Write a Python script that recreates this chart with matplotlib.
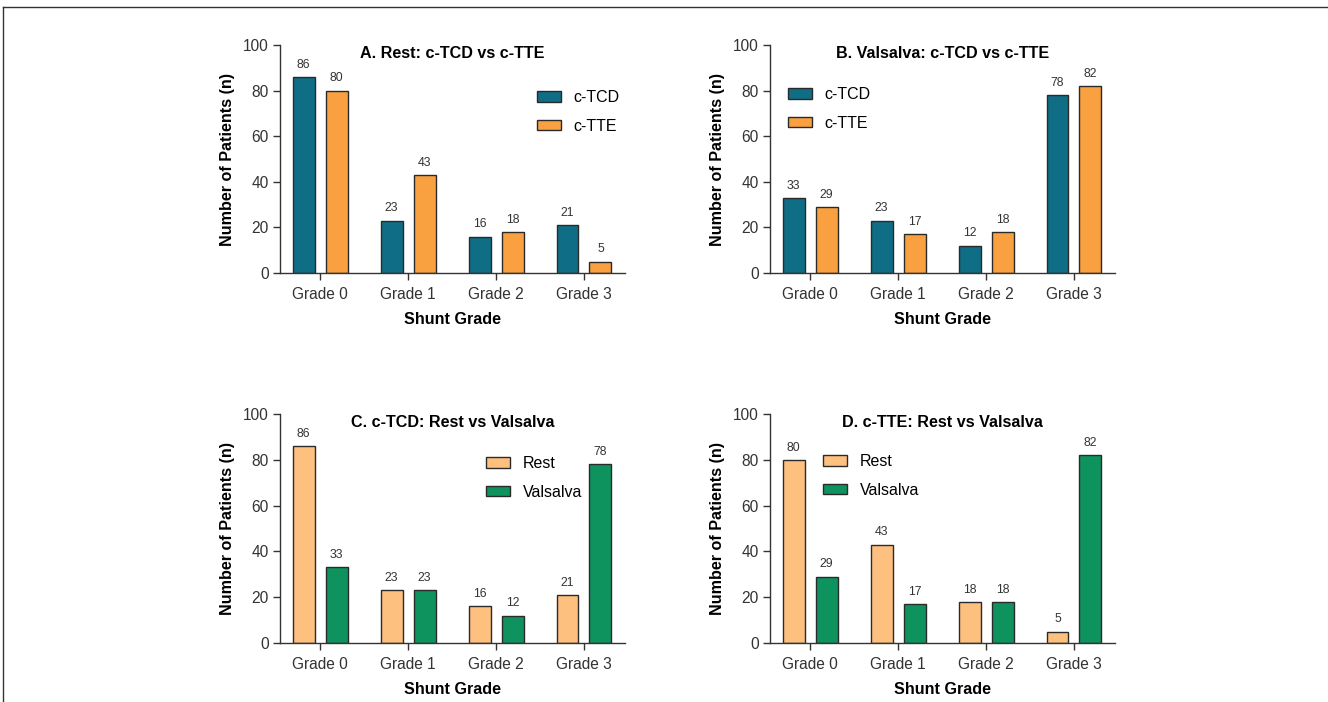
import matplotlib
matplotlib.use("Agg")
import matplotlib.pyplot as plt
from matplotlib.lines import Line2D
import numpy as np

plt.rcParams['font.family'] = ['Liberation Sans', 'DejaVu Sans']

grades = ["Grade 0", "Grade 1", "Grade 2", "Grade 3"]
tcd_rest = [86, 23, 16, 21]
tte_rest = [80, 43, 18, 5]
tcd_valsalva = [33, 23, 12, 78]
tte_valsalva = [29, 17, 18, 82]

TEAL = "#0f6d86"
ORANGE = "#f9a040"
LIGHT_ORANGE = "#fdc07f"
GREEN = "#0e935f"
EDGE = "#2a2a2a"

panels = [
    dict(title="A. Rest: c-TCD vs c-TTE", s1=tcd_rest, s2=tte_rest, labels=("c-TCD", "c-TTE"),
         colors=(TEAL, ORANGE), rect=(280, 45, 625, 273), leg=(537, 96)),
    dict(title="B. Valsalva: c-TCD vs c-TTE", s1=tcd_valsalva, s2=tte_valsalva, labels=("c-TCD", "c-TTE"),
         colors=(TEAL, ORANGE), rect=(770, 45, 1115, 273), leg=(788, 93)),
    dict(title="C. c-TCD: Rest vs Valsalva", s1=tcd_rest, s2=tcd_valsalva, labels=("Rest", "Valsalva"),
         colors=(LIGHT_ORANGE, GREEN), rect=(280, 414, 625, 643), leg=(486, 462)),
    dict(title="D. c-TTE: Rest vs Valsalva", s1=tte_rest, s2=tte_valsalva, labels=("Rest", "Valsalva"),
         colors=(LIGHT_ORANGE, GREEN), rect=(770, 414, 1115, 643), leg=(823, 460)),
]

W, H = 1328, 702
fig = plt.figure(figsize=(W / 100, H / 100), dpi=100)

# partial frame border
fig.add_artist(Line2D([3 / W, 1], [1 - 7 / H, 1 - 7 / H], color="#333333", lw=1.0, transform=fig.transFigure))
fig.add_artist(Line2D([3 / W, 3 / W], [0, 1 - 7 / H], color="#333333", lw=1.0, transform=fig.transFigure))

x = np.arange(len(grades))
bw = 0.25
off = 0.1875

for p in panels:
    l, t, r, b = p["rect"]
    ax = fig.add_axes([l / W, 1 - b / H, (r - l) / W, (b - t) / H])
    b1 = ax.bar(x - off, p["s1"], bw, color=p["colors"][0], edgecolor=EDGE, linewidth=1.0, label=p["labels"][0])
    b2 = ax.bar(x + off, p["s2"], bw, color=p["colors"][1], edgecolor=EDGE, linewidth=1.0, label=p["labels"][1])
    for bars in (b1, b2):
        for rect in bars:
            h = rect.get_height()
            ax.annotate(f"{int(h)}", (rect.get_x() + rect.get_width() / 2, h),
                        xytext=(0, 4.5), textcoords="offset points", ha="center", va="bottom",
                        fontsize=8.8, color="#333333")
    ax.set_xlim(-0.455, 3.466)
    ax.set_ylim(0, 100)
    ax.set_yticks([0, 20, 40, 60, 80, 100])
    ax.set_xticks(x)
    ax.set_xticklabels(grades)
    for s in ("top", "right"):
        ax.spines[s].set_visible(False)
    for s in ("left", "bottom"):
        ax.spines[s].set_color("#333333")
        ax.spines[s].set_linewidth(1.0)
    ax.tick_params(axis="both", labelsize=11.2, colors="#333333", length=5, width=1.0)
    ax.tick_params(axis="x", pad=5)
    ax.tick_params(axis="y", pad=3)
    ax.set_xlabel("Shunt Grade", fontsize=11.6, fontweight="bold", labelpad=7)
    ax.set_ylabel("Number of Patients (n)", fontsize=11.6, fontweight="bold", labelpad=6)
    ax.text(0.5, 0.962, p["title"], transform=ax.transAxes, ha="center", va="center",
            fontsize=11.6, fontweight="bold")
    lx, ly = p["leg"]
    ax.legend(loc="upper left", bbox_to_anchor=(lx / W, 1 - (ly - 6) / H), bbox_transform=fig.transFigure,
              frameon=False, fontsize=11.5, handlelength=1.5, handleheight=0.65, handletextpad=0.8,
              labelspacing=0.85, borderaxespad=0, borderpad=0)

fig.savefig("out.png", dpi=100)
